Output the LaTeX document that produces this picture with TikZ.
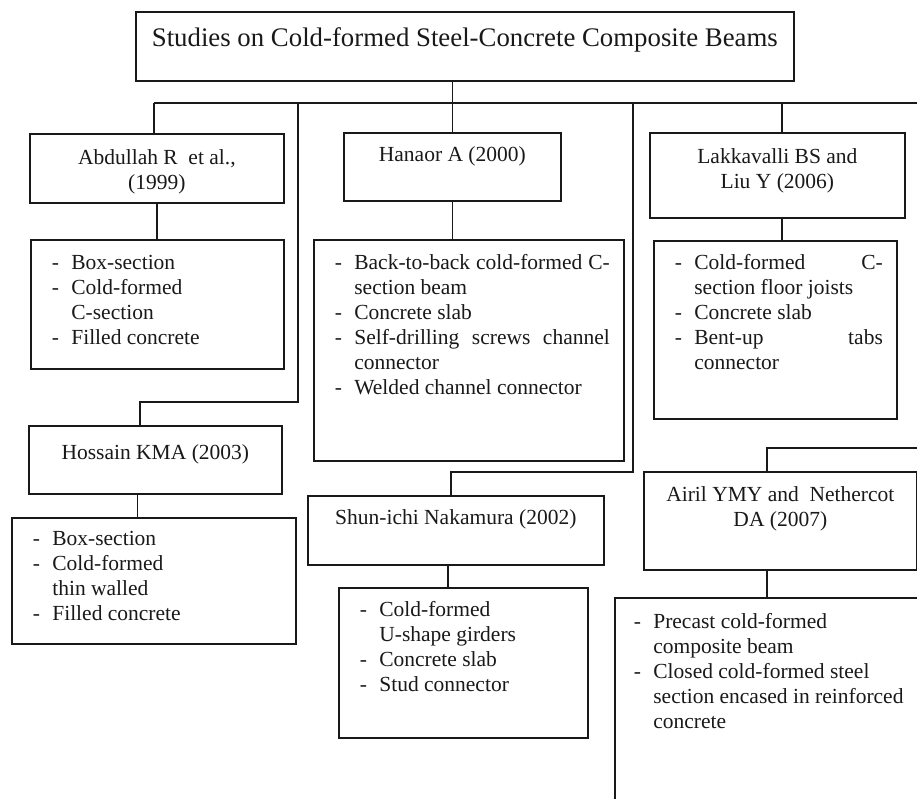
\documentclass[tikz,border=0pt]{standalone}
\usepackage{fontspec}
\setmainfont{Liberation Serif}
\usetikzlibrary{positioning,calc}

% box content: width, height, gap above first line, text
\newcommand{\boxtext}[4]{\parbox[c][#2][t]{#1}{\fontsize{21.5}{25}\selectfont\vspace*{#3}\everypar{\strut}#4}}
% one dashed item of a list
\newcommand{\itm}[1]{\hangindent=19.5pt\hangafter=1\noindent\makebox[19.5pt][l]{-}#1\par}
\newcommand{\lst}{\leftskip=21pt\rightskip=14pt}

\tikzset{
  box/.style={draw=black!90, line width=1.7pt, inner sep=0pt, anchor=north west, text=black!90},
  link/.style={draw=black!90, line width=1.5pt}
}

\begin{document}
\begin{tikzpicture}[x=1pt,y=-1pt]
\useasboundingbox (0,0) rectangle (917,798);
\fill[white] (0,0) rectangle (917,798);
\clip (0,0) rectangle (917,798);

% title
\node[box, minimum width=658pt, text height=35pt, text depth=34pt,
      font=\fontsize{26.8}{30}\selectfont] (top) at (135,11)
      {Studies on Cold-formed Steel-Concrete Composite Beams};

% first row
\node[box] (abd) at (29,133) {\boxtext{254pt}{69pt}{13.5pt}{\centering Abdullah R\ \ et al.,\\(1999)}};
\node[box] (abdL) at (30,239) {\boxtext{253pt}{129pt}{12.5pt}{\lst
  \itm{Box-section}\itm{Cold-formed\\C-section}\itm{Filled concrete}}};

\node[box] (han) at (343,132) {\boxtext{217pt}{68pt}{11.5pt}{\centering Hanaor A (2000)}};
\node[box] (hanL) at (313,239) {\boxtext{310pt}{221pt}{12.5pt}{\lst
  \itm{Back-to-back\hfill cold-formed\hfill C-\\section beam}
  \itm{Concrete slab}
  \itm{Self-drilling\hfill screws\hfill channel\\connector}
  \itm{Welded channel connector}}};

\node[box] (lak) at (649,132) {\boxtext{255pt}{85pt}{13.5pt}{\centering Lakkavalli BS and\\Liu Y (2006)}};
\node[box] (lakL) at (653,240) {\boxtext{243pt}{178pt}{11.5pt}{\lst
  \itm{Cold-formed\hfill C-\\section floor joists}
  \itm{Concrete slab}
  \itm{Bent-up\hfill tabs\\connector}}};

% second row
\node[box] (hos) at (28,425) {\boxtext{253pt}{68pt}{16pt}{\centering Hossain KMA (2003)}};
\node[box] (hosL) at (11,517) {\boxtext{284pt}{126pt}{10.5pt}{\lst
  \itm{Box-section}\itm{Cold-formed\\thin walled}\itm{Filled concrete}}};

\node[box] (nak) at (307,495) {\boxtext{296pt}{69pt}{11.5pt}{\centering Shun-ichi Nakamura (2002)}};
\node[box] (nakL) at (338,587) {\boxtext{249pt}{150pt}{11.5pt}{\lst
  \itm{Cold-formed\\U-shape girders}\itm{Concrete slab}\itm{Stud connector}}};

\node[box] (air) at (643,471) {\boxtext{273pt}{98pt}{12.5pt}{\centering Airil YMY and\ \ Nethercot\\DA (2007)}};
\node[box] (airL) at (614,597) {\boxtext{360pt}{250pt}{13.5pt}{\leftskip=19pt
  \itm{Precast cold-formed\\composite beam}
  \itm{Closed cold-formed steel\\section encased in reinforced\\concrete}}};

% connectors
\coordinate (busL) at (154,103);
\coordinate (busR) at (940,103);
\coordinate (j1) at (298,103);
\coordinate (j2) at (633,103);
\coordinate (j3) at (782,103);
\coordinate (hosbend) at (140,402);
\coordinate (nakbend) at (451,472);
\coordinate (airbend) at (767,448);

\draw[link] (top.south -| han.north) -- (han.north);
\draw[link] (busL) -- (busR) |- (airbend) -- (airbend |- air.north);
\draw[link] (busL) -- (busL |- abd.north);
\draw[link] (abd.south) -- (abd.south |- abdL.north);
\draw[link] (han.south) -- (han.south |- hanL.north);
\draw[link] (j3) -- (j3 |- lak.north);
\draw[link] (j3 |- lak.south) -- (j3 |- lakL.north);
\draw[link] (j1) |- (hosbend) -- (hosbend |- hos.north);
\draw[link] ([xshift=-18pt]hos.south) -- ([xshift=-18pt]hos.south |- hosL.north);
\draw[link] (j2) |- (nakbend) -- (nakbend |- nak.north);
\draw[link] ([xshift=-8pt]nak.south) -- ([xshift=-8pt]nak.south |- nakL.north);
\draw[link] (airbend |- air.south) -- (airbend |- airL.north);
\end{tikzpicture}
\end{document}
